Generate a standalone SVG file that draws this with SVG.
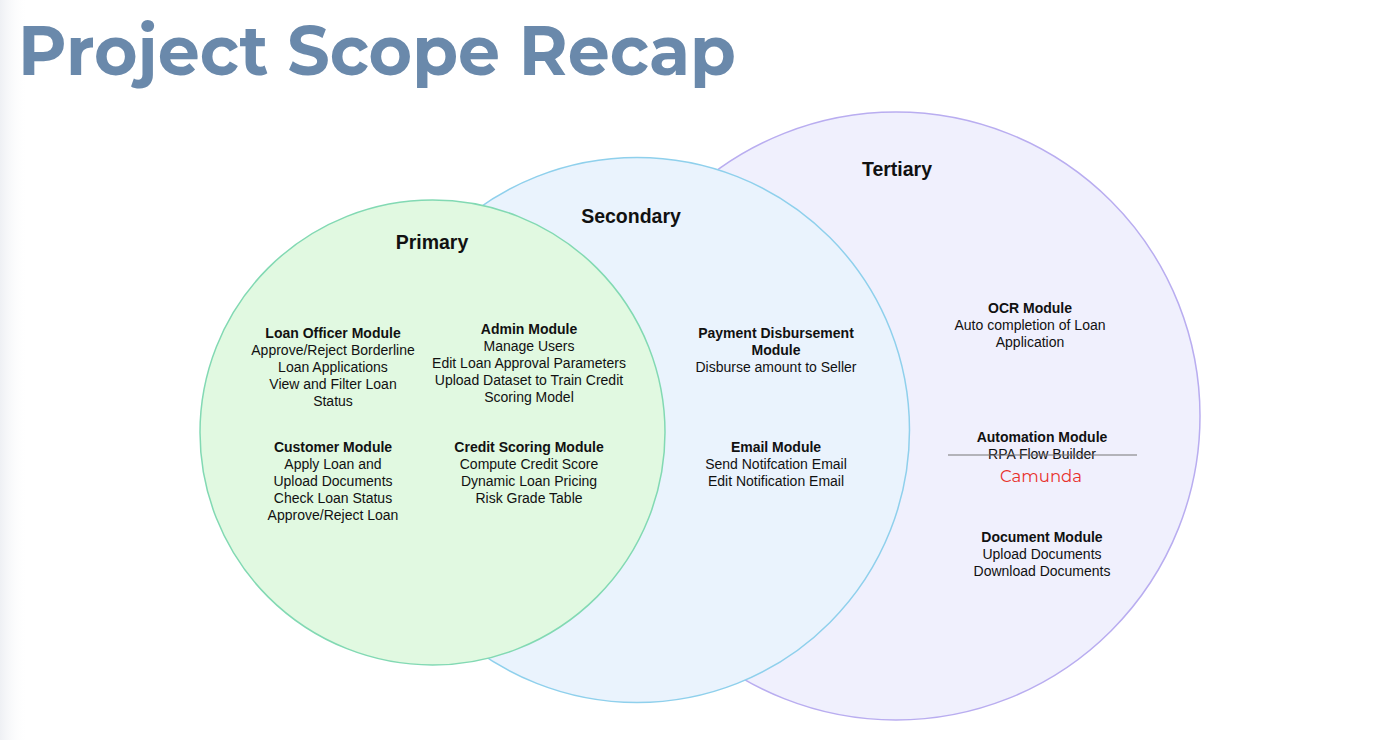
<svg xmlns="http://www.w3.org/2000/svg" width="1398" height="740" viewBox="0 0 1398 740">
<style>
.t{font-family:"Liberation Sans",Arial,sans-serif;font-size:14px;fill:#111;text-anchor:middle}
.b{font-weight:bold}
.h{font-family:"Liberation Sans",Arial,sans-serif;font-size:19.5px;font-weight:bold;fill:#111;text-anchor:middle}
</style>
<defs>
<linearGradient id="edge" x1="0" y1="0" x2="1" y2="0">
<stop offset="0" stop-color="#eef0f4"/>
<stop offset="1" stop-color="#ffffff" stop-opacity="0"/>
</linearGradient>
</defs>
<rect width="1398" height="740" fill="#fff"/>
<rect x="0" y="0" width="28" height="740" fill="url(#edge)"/>
<text x="18" y="75" font-family="Montserrat,'Open Sans',sans-serif" font-weight="bold" font-size="70" fill="#6a89ab" textLength="718" lengthAdjust="spacingAndGlyphs">Project Scope Recap</text>
<g id="tertiary">
<circle cx="896" cy="416" r="304" fill="#f0f0fd" stroke="#b9adf0" stroke-width="1.5"/>
<text class="h" x="897" y="176">Tertiary</text>
</g>
<g id="secondary">
<circle cx="637" cy="430" r="272.5" fill="#eaf3fd" stroke="#8fd0ec" stroke-width="1.5"/>
<text class="h" x="631" y="223">Secondary</text>
</g>
<g id="primary">
<circle cx="432.5" cy="432.5" r="232.5" fill="#e1f9e1" stroke="#82d9b3" stroke-width="1.5"/>
<text class="h" x="432" y="249">Primary</text>
</g>
<g id="loan-officer">
<text class="t b" x="333" y="338">Loan Officer Module</text>
<text class="t" x="333" y="355">Approve/Reject Borderline</text>
<text class="t" x="333" y="372">Loan Applications</text>
<text class="t" x="333" y="389">View and Filter Loan</text>
<text class="t" x="333" y="406">Status</text>
</g>
<g id="admin">
<text class="t b" x="529" y="334">Admin Module</text>
<text class="t" x="529" y="351">Manage Users</text>
<text class="t" x="529" y="368">Edit Loan Approval Parameters</text>
<text class="t" x="529" y="385">Upload Dataset to Train Credit</text>
<text class="t" x="529" y="402">Scoring Model</text>
</g>
<g id="customer">
<text class="t b" x="333" y="452">Customer Module</text>
<text class="t" x="333" y="469">Apply Loan and</text>
<text class="t" x="333" y="486">Upload Documents</text>
<text class="t" x="333" y="503">Check Loan Status</text>
<text class="t" x="333" y="520">Approve/Reject Loan</text>
</g>
<g id="credit-scoring">
<text class="t b" x="529" y="452">Credit Scoring Module</text>
<text class="t" x="529" y="469">Compute Credit Score</text>
<text class="t" x="529" y="486">Dynamic Loan Pricing</text>
<text class="t" x="529" y="503">Risk Grade Table</text>
</g>
<g id="payment">
<text class="t b" x="776" y="338">Payment Disbursement</text>
<text class="t b" x="776" y="355">Module</text>
<text class="t" x="776" y="372">Disburse amount to Seller</text>
</g>
<g id="email">
<text class="t b" x="776" y="452">Email Module</text>
<text class="t" x="776" y="469">Send Notifcation Email</text>
<text class="t" x="776" y="486">Edit Notification Email</text>
</g>
<g id="ocr">
<text class="t b" x="1030" y="313">OCR Module</text>
<text class="t" x="1030" y="330">Auto completion of Loan</text>
<text class="t" x="1030" y="347">Application</text>
</g>
<g id="automation">
<text class="t b" x="1042" y="442">Automation Module</text>
<text class="t" x="1042" y="459">RPA Flow Builder</text>
<line x1="948" y1="455" x2="1137" y2="455" stroke="#777" stroke-width="1.2"/>
<text x="1041" y="482" font-family="Montserrat,'Open Sans',sans-serif" font-size="16.5" fill="#e8302c" text-anchor="middle">Camunda</text>
</g>
<g id="document">
<text class="t b" x="1042" y="542">Document Module</text>
<text class="t" x="1042" y="559">Upload Documents</text>
<text class="t" x="1042" y="576">Download Documents</text>
</g>
</svg>
